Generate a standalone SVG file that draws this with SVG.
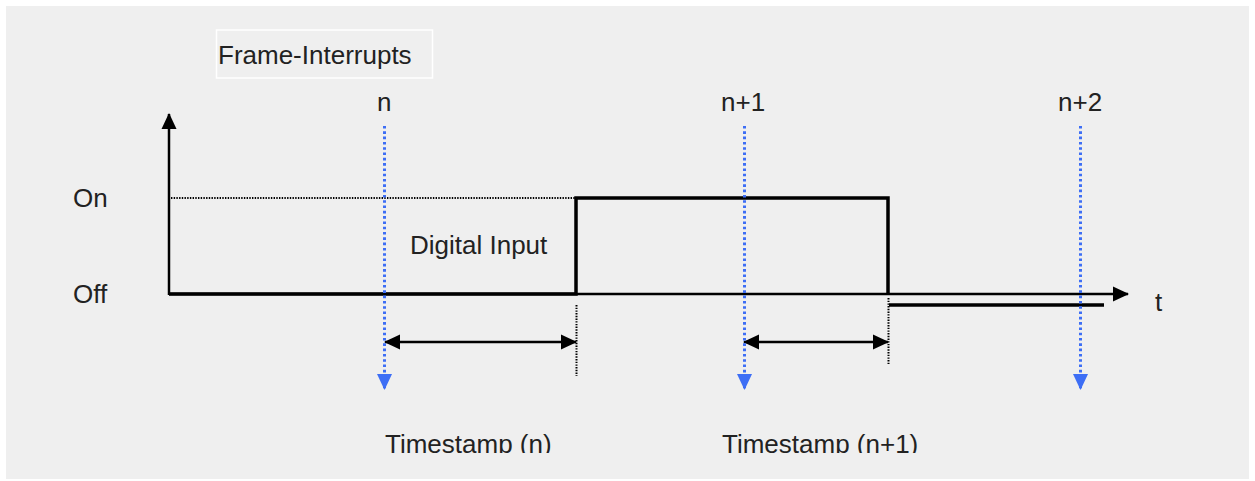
<svg xmlns="http://www.w3.org/2000/svg" width="1255" height="481" viewBox="0 0 1255 481">
<style>
text{font-family:"Liberation Sans",Arial,sans-serif;font-size:26px;fill:#222}
.sig{fill:none;stroke:#000;stroke-width:3.5;stroke-linejoin:miter}
.ax{fill:none;stroke:#000;stroke-width:2.5}
.dot{fill:none;stroke:#000;stroke-width:2;stroke-dasharray:1.4 1.3}
.blue{fill:none;stroke:#3d6ef5;stroke-width:3;stroke-dasharray:2.6 2.7}
</style>
<defs>
<marker id="ah" viewBox="0 0 16 16" refX="15" refY="8" markerWidth="16" markerHeight="16" markerUnits="userSpaceOnUse" orient="auto-start-reverse"><path d="M0,0.5 L16,8 L0,15.5 Z" fill="#000"/></marker>
<marker id="bh" viewBox="0 0 16 16" refX="15" refY="8" markerWidth="16" markerHeight="16" markerUnits="userSpaceOnUse" orient="auto"><path d="M0,0.5 L16,8 L0,15.5 Z" fill="#3d6ef5"/></marker>
<clipPath id="clipB"><rect x="0" y="0" width="1255" height="453"/></clipPath>
</defs>
<rect x="6" y="6" width="1243" height="473" fill="#efefef"/>
<g id="title">
<rect x="216.5" y="30" width="216" height="48" fill="none" stroke="#fff" stroke-width="1.5"/>
<text x="218" y="64">Frame-Interrupts</text>
</g>
<g id="labels">
<text x="377" y="111">n</text>
<text x="721" y="111">n+1</text>
<text x="1058" y="111">n+2</text>
<text x="73" y="207">On</text>
<text x="73" y="303">Off</text>
<text x="410" y="254">Digital Input</text>
<text x="1155" y="311">t</text>
<g clip-path="url(#clipB)">
<text x="385" y="453">Timestamp (n)</text>
<text x="722" y="453">Timestamp (n+1)</text>
</g>
</g>
<g id="connectors">
<line class="ax" x1="169" y1="295" x2="169" y2="114" marker-end="url(#ah)"/>
<line class="ax" x1="169" y1="294" x2="1128" y2="294" marker-end="url(#ah)"/>
<polyline class="sig" points="169,294 576,294 576,198 888,198 888,294"/>
<line class="sig" x1="889" y1="305" x2="1104" y2="305"/>
<line class="dot" x1="171" y1="198" x2="575" y2="198"/>
<line class="dot" x1="576.5" y1="305" x2="576.5" y2="376"/>
<line class="dot" x1="888.5" y1="298" x2="888.5" y2="364"/>
<line class="ax" x1="385" y1="342" x2="576" y2="342" marker-start="url(#ah)" marker-end="url(#ah)"/>
<line class="ax" x1="744" y1="342" x2="888" y2="342" marker-start="url(#ah)" marker-end="url(#ah)"/>
<line class="blue" x1="384.5" y1="126" x2="384.5" y2="389" marker-end="url(#bh)"/>
<line class="blue" x1="744.5" y1="126" x2="744.5" y2="389" marker-end="url(#bh)"/>
<line class="blue" x1="1080.5" y1="126" x2="1080.5" y2="389" marker-end="url(#bh)"/>
</g>
</svg>
